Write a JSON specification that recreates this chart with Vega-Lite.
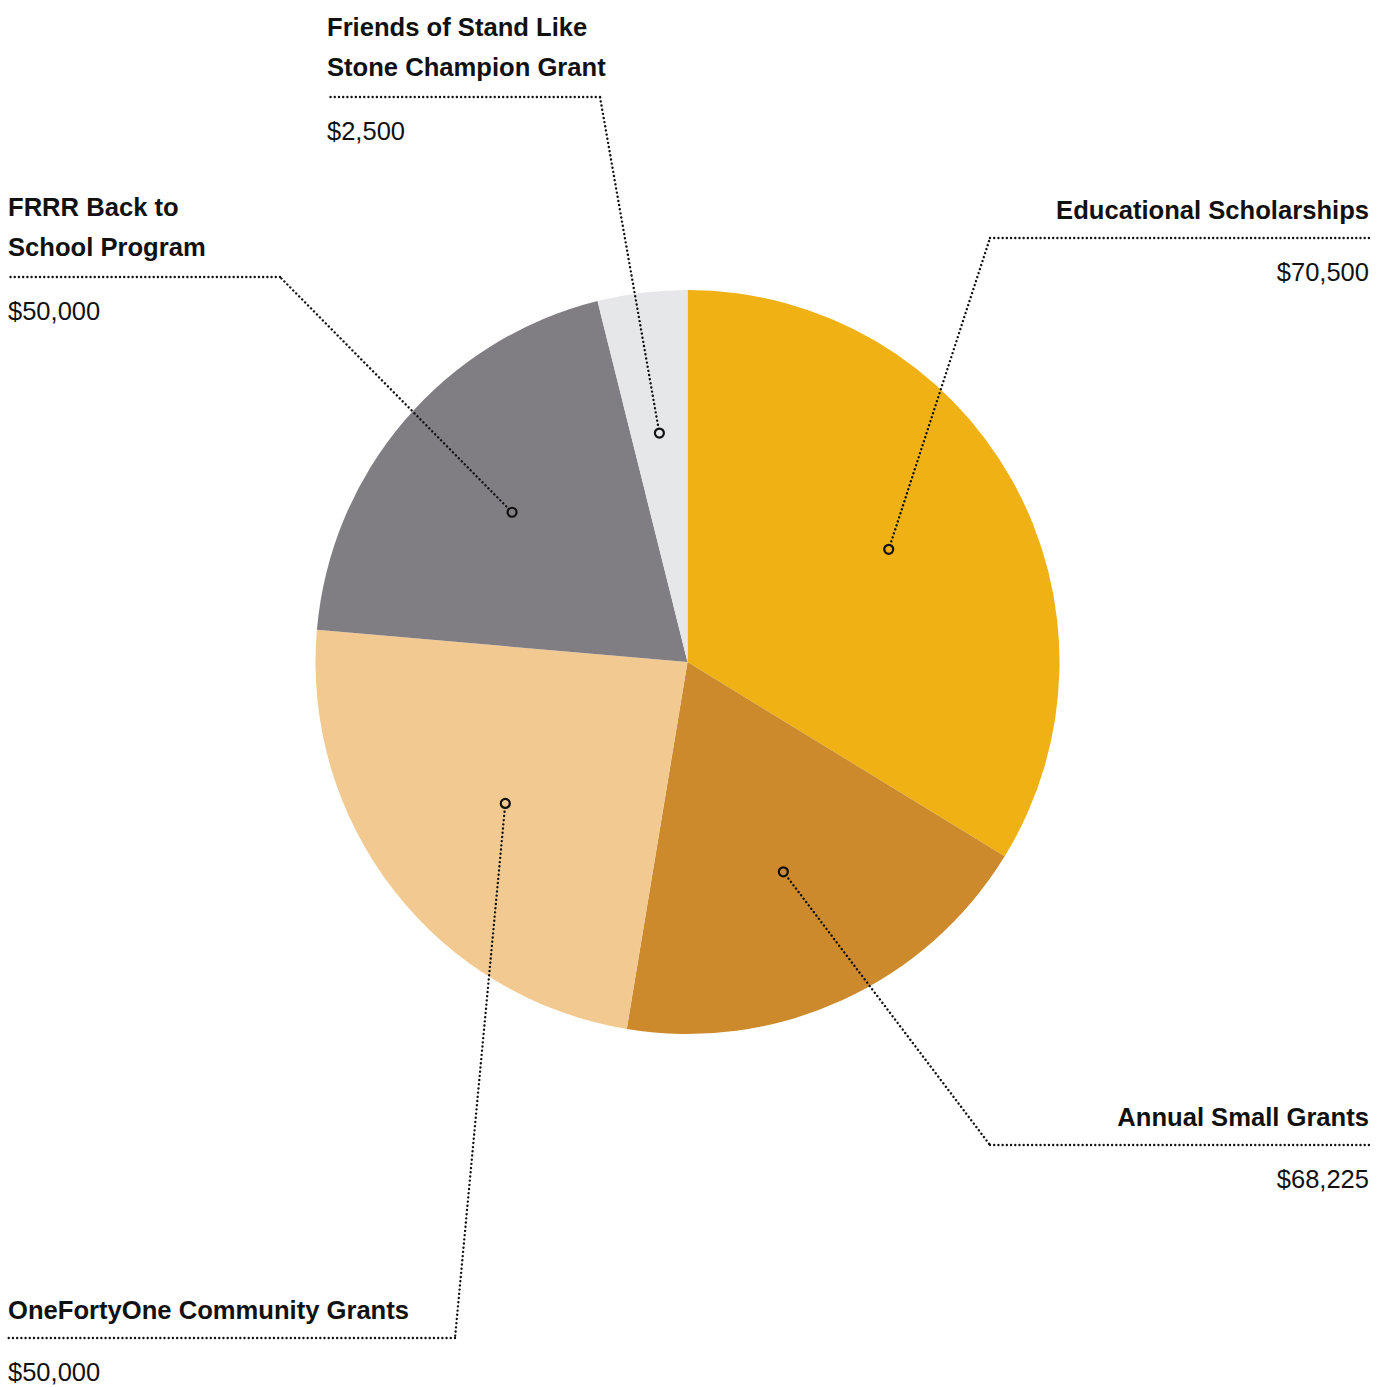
{
  "$schema": "https://vega.github.io/schema/vega-lite/v6.json",
  "width": 1390,
  "height": 1387,
  "autosize": "none",
  "padding": 0,
  "background": "white",
  "config": {"view": {"stroke": null}, "font": "Liberation Sans"},
  "data": {
    "values": [
      {"category": "Educational Scholarships", "label": "Educational Scholarships", "lines": 1, "amount": 70500, "share": 33.75, "rank": 1, "side": "right", "outerX": 1369, "elbowX": 990, "lineY": 238},
      {"category": "Annual Small Grants", "label": "Annual Small Grants", "lines": 1, "amount": 68225, "share": 18.86, "rank": 2, "side": "right", "outerX": 1369, "elbowX": 990, "lineY": 1145},
      {"category": "OneFortyOne Community Grants", "label": "OneFortyOne Community Grants", "lines": 1, "amount": 50000, "share": 23.77, "rank": 3, "side": "left", "outerX": 8, "elbowX": 455, "lineY": 1338},
      {"category": "FRRR Back to School Program", "label": "FRRR Back to\nSchool Program", "lines": 2, "amount": 50000, "share": 19.73, "rank": 4, "side": "left", "outerX": 8, "elbowX": 280, "lineY": 277},
      {"category": "Friends of Stand Like Stone Champion Grant", "label": "Friends of Stand Like\nStone Champion Grant", "lines": 2, "amount": 2500, "share": 3.89, "rank": 5, "side": "left", "outerX": 327, "elbowX": 600, "lineY": 97}
    ]
  },
  "transform": [
    {"joinaggregate": [{"op": "sum", "field": "share", "as": "total"}]},
    {"window": [{"op": "sum", "field": "share", "as": "cum"}], "sort": [{"field": "rank"}], "frame": [null, 0]},
    {"calculate": "2*PI*(datum.cum - datum.share/2)/datum.total", "as": "mid"},
    {"calculate": "687.5 + 0.62*372*sin(datum.mid)", "as": "dotX"},
    {"calculate": "662 - 0.62*372*cos(datum.mid)", "as": "dotY"}
  ],
  "layer": [
    {
      "mark": {"type": "arc", "outerRadius": 372, "stroke": null},
      "encoding": {
        "x": {"datum": 687.5, "type": "quantitative", "scale": {"domain": [0, 1390], "nice": false, "zero": false}, "axis": null},
        "y": {"datum": 662, "type": "quantitative", "scale": {"domain": [0, 1387], "nice": false, "zero": false, "reverse": true}, "axis": null},
        "theta": {"field": "share", "type": "quantitative", "stack": true},
        "order": {"field": "rank", "type": "quantitative"},
        "color": {
          "field": "category", "type": "nominal", "legend": null,
          "scale": {
            "domain": ["Educational Scholarships", "Annual Small Grants", "OneFortyOne Community Grants", "FRRR Back to School Program", "Friends of Stand Like Stone Champion Grant"],
            "range": ["#EFB114", "#CC8A2C", "#F2CA91", "#807E83", "#E6E7E9"]
          }
        }
      }
    },
    {
      "mark": {"type": "rule", "strokeDash": [0.01, 4.2], "strokeCap": "round", "strokeWidth": 2.4, "color": "#111111"},
      "encoding": {
        "x": {"field": "dotX", "type": "quantitative", "axis": null},
        "y": {"field": "dotY", "type": "quantitative", "axis": null},
        "x2": {"field": "elbowX"},
        "y2": {"field": "lineY"}
      }
    },
    {
      "mark": {"type": "rule", "strokeDash": [0.01, 4.2], "strokeCap": "round", "strokeWidth": 2.4, "color": "#111111"},
      "encoding": {
        "x": {"field": "elbowX", "type": "quantitative", "axis": null},
        "x2": {"field": "outerX"},
        "y": {"field": "lineY", "type": "quantitative", "axis": null}
      }
    },
    {
      "mark": {"type": "point", "shape": "circle", "filled": true, "size": 81, "stroke": "#111111", "strokeWidth": 2.2, "opacity": 1},
      "encoding": {
        "x": {"field": "dotX", "type": "quantitative", "axis": null},
        "y": {"field": "dotY", "type": "quantitative", "axis": null},
        "color": {"field": "category", "type": "nominal", "legend": null}
      }
    },
    {
      "transform": [{"filter": "datum.side === 'left' && datum.lines === 1"}],
      "mark": {"type": "text", "align": "left", "baseline": "alphabetic", "dy": -19, "fontSize": 25.6, "fontWeight": "bold", "color": "#111111", "font": "Liberation Sans"},
      "encoding": {
        "x": {"field": "outerX", "type": "quantitative", "axis": null},
        "y": {"field": "lineY", "type": "quantitative", "axis": null},
        "text": {"field": "label", "type": "nominal"}
      }
    },
    {
      "transform": [{"filter": "datum.side === 'left' && datum.lines === 2"}],
      "mark": {"type": "text", "align": "left", "baseline": "alphabetic", "dy": -61, "lineBreak": "\n", "lineHeight": 40, "fontSize": 25.6, "fontWeight": "bold", "color": "#111111", "font": "Liberation Sans"},
      "encoding": {
        "x": {"field": "outerX", "type": "quantitative", "axis": null},
        "y": {"field": "lineY", "type": "quantitative", "axis": null},
        "text": {"field": "label", "type": "nominal"}
      }
    },
    {
      "transform": [{"filter": "datum.side === 'right'"}],
      "mark": {"type": "text", "align": "right", "baseline": "alphabetic", "dy": -19, "fontSize": 25.6, "fontWeight": "bold", "color": "#111111", "font": "Liberation Sans"},
      "encoding": {
        "x": {"field": "outerX", "type": "quantitative", "axis": null},
        "y": {"field": "lineY", "type": "quantitative", "axis": null},
        "text": {"field": "label", "type": "nominal"}
      }
    },
    {
      "transform": [{"filter": "datum.side === 'left'"}],
      "mark": {"type": "text", "align": "left", "baseline": "alphabetic", "dy": 43, "fontSize": 25.5, "color": "#111111", "font": "Liberation Sans"},
      "encoding": {
        "x": {"field": "outerX", "type": "quantitative", "axis": null},
        "y": {"field": "lineY", "type": "quantitative", "axis": null},
        "text": {"field": "amount", "type": "quantitative", "format": "$,.0f"}
      }
    },
    {
      "transform": [{"filter": "datum.side === 'right'"}],
      "mark": {"type": "text", "align": "right", "baseline": "alphabetic", "dy": 43, "fontSize": 25.5, "color": "#111111", "font": "Liberation Sans"},
      "encoding": {
        "x": {"field": "outerX", "type": "quantitative", "axis": null},
        "y": {"field": "lineY", "type": "quantitative", "axis": null},
        "text": {"field": "amount", "type": "quantitative", "format": "$,.0f"}
      }
    }
  ]
}
